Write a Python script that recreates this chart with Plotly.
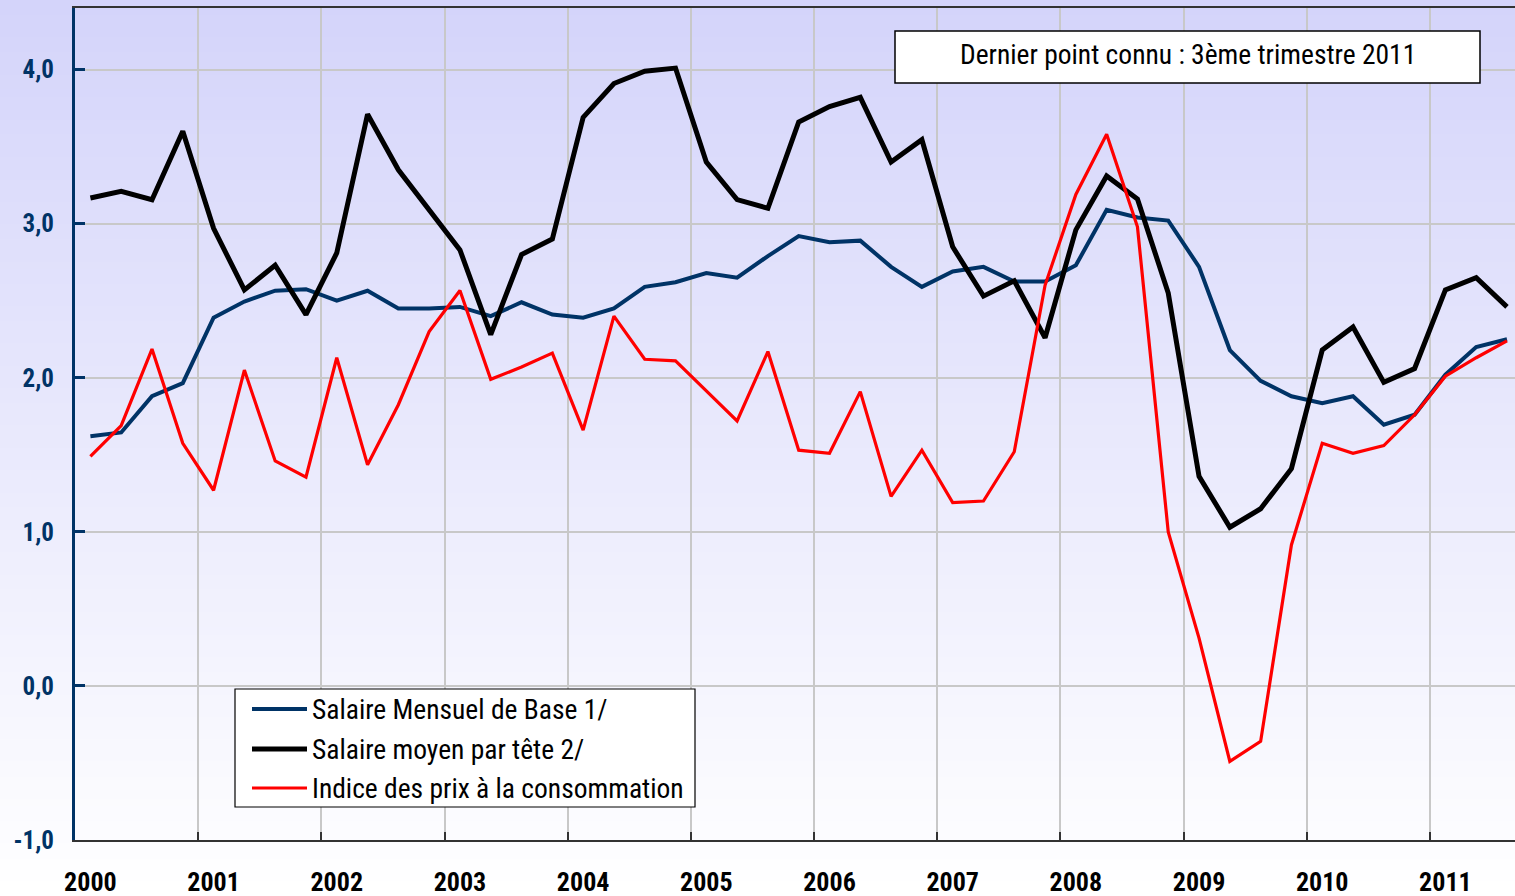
import plotly.graph_objects as go

# ---------------- data (quarterly, 2000Q1 .. 2011Q3) ----------------
years = ["2000", "2001", "2002", "2003", "2004", "2005",
         "2006", "2007", "2008", "2009", "2010", "2011"]

smb = [1.62, 1.645, 1.88, 1.965, 2.39, 2.495, 2.565, 2.575, 2.50, 2.565,
       2.45, 2.45, 2.46, 2.40, 2.49, 2.41, 2.39, 2.45, 2.59, 2.62,
       2.68, 2.65, 2.79, 2.92, 2.88, 2.89, 2.72, 2.59, 2.69, 2.72,
       2.625, 2.625, 2.73, 3.09, 3.04, 3.02, 2.72, 2.18, 1.98, 1.88,
       1.835, 1.88, 1.695, 1.76, 2.02, 2.20, 2.25]

smpt = [3.167, 3.21, 3.156, 3.60, 2.97, 2.57, 2.73, 2.41, 2.81, 3.71,
        3.35, 3.09, 2.83, 2.28, 2.80, 2.90, 3.69, 3.91, 3.99, 4.01,
        3.40, 3.156, 3.10, 3.66, 3.76, 3.82, 3.40, 3.545, 2.85, 2.53,
        2.63, 2.26, 2.96, 3.31, 3.16, 2.55, 1.36, 1.03, 1.15, 1.41,
        2.18, 2.33, 1.97, 2.06, 2.57, 2.65, 2.46]

ipc = [1.49, 1.69, 2.186, 1.575, 1.27, 2.05, 1.46, 1.355, 2.13, 1.435,
       1.825, 2.30, 2.567, 1.99, 2.07, 2.16, 1.66, 2.40, 2.12, 2.11,
       1.915, 1.72, 2.17, 1.53, 1.51, 1.91, 1.23, 1.53, 1.19, 1.20,
       1.52, 2.60, 3.19, 3.58, 2.98, 1.00, 0.31, -0.49, -0.36, 0.915,
       1.575, 1.51, 1.56, 1.76, 2.01, 2.13, 2.24]

y_ticks = [-1, 0, 1, 2, 3, 4]
y_ticktext = ["-1,0", "0,0", "1,0", "2,0", "3,0", "4,0"]

series_names = ["Salaire Mensuel de Base 1/",
                "Salaire moyen par tête 2/",
                "Indice des prix à la consommation"]
series_colors = ["#003366", "#000000", "#ff0000"]
series_widths = [4, 5, 3.2]
note_text = "Dernier point connu : 3ème trimestre 2011"

# ---------------- layout geometry ----------------
W, H = 1515, 896
ML, MR, MT, MB = 75, 0, 8, 56
PW, PH = W - ML - MR, H - MT - MB
FONT = "Liberation Sans Narrow, Arial Narrow, Roboto Condensed, sans-serif"


def px_x(px):
    return (px - ML) / PW


def px_y(py):
    return (H - MB - py) / PH


xs = list(range(len(smb)))
fig = go.Figure()
for name, vals, col, wd in zip(series_names, [smb, smpt, ipc], series_colors, series_widths):
    fig.add_trace(go.Scatter(x=xs, y=vals, mode="lines", name=name,
                             line=dict(color=col, width=wd),
                             showlegend=False))

shapes = []
# background gradient (paper wide)
n_bands = 120
top_c = (212, 212, 250)
bot_c = (255, 255, 255)
for i in range(n_bands):
    t = i / (n_bands - 1)
    c = tuple(round(top_c[k] + (bot_c[k] - top_c[k]) * t) for k in range(3))
    y0 = i * H / n_bands
    y1 = (i + 1) * H / n_bands + 0.8
    shapes.append(dict(type="rect", xref="paper", yref="paper",
                       x0=px_x(0), x1=px_x(W), y0=px_y(y1), y1=px_y(y0),
                       fillcolor="rgb(%d,%d,%d)" % c, line=dict(width=0),
                       layer="below"))

# note box
shapes.append(dict(type="rect", xref="paper", yref="paper",
                   x0=px_x(895), x1=px_x(1480), y0=px_y(83), y1=px_y(31),
                   fillcolor="white", line=dict(color="black", width=1.5),
                   layer="above"))
# legend box
shapes.append(dict(type="rect", xref="paper", yref="paper",
                   x0=px_x(235), x1=px_x(695), y0=px_y(807), y1=px_y(689),
                   fillcolor="white", line=dict(color="black", width=1.2),
                   layer="above"))

annotations = [dict(text=note_text, xref="paper", yref="paper",
                    x=px_x(1188), y=px_y(55), xanchor="center", yanchor="middle",
                    showarrow=False, font=dict(family=FONT, size=27.5, color="black"))]

legend_rows = [709, 749, 788]
for name, col, wd, ry in zip(series_names, series_colors, series_widths, legend_rows):
    shapes.append(dict(type="line", xref="paper", yref="paper",
                       x0=px_x(252), x1=px_x(307), y0=px_y(ry), y1=px_y(ry),
                       line=dict(color=col, width=wd), layer="above"))
    annotations.append(dict(text=name, xref="paper", yref="paper",
                            x=px_x(310), y=px_y(ry), xanchor="left", yanchor="middle",
                            showarrow=False,
                            font=dict(family=FONT, size=27.5, color="black")))

fig.update_layout(
    width=W, height=H, autosize=False,
    margin=dict(l=ML, r=MR, t=MT, b=MB, pad=0, autoexpand=False),
    paper_bgcolor="white",
    plot_bgcolor="rgba(0,0,0,0)",
    shapes=shapes,
    annotations=annotations,
    showlegend=False,
    font=dict(family=FONT),
)

fig.update_xaxes(
    automargin=False,
    range=[-0.5, 46.26],
    tickmode="array",
    tickvals=[4 * i for i in range(len(years))],
    ticktext=years,
    ticks="",
    showgrid=False,
    zeroline=False,
    showline=True, linecolor="#333333", linewidth=1.5, mirror=True,
    tickfont=dict(family=FONT, size=26, color="black", weight="bold"),
    ticklabelstandoff=18,
    minor=dict(tickmode="array",
               tickvals=[3.5 + 4 * i for i in range(len(years) - 1)],
               showgrid=True, gridcolor="#c8c8c8", gridwidth=1.5,
               ticks="inside", ticklen=8, tickcolor="#333333", tickwidth=1.5),
)

fig.update_yaxes(
    automargin=False,
    range=[-1.0, 4.4],
    tickmode="array",
    tickvals=y_ticks,
    ticktext=y_ticktext,
    showgrid=True, gridcolor="#c8c8c8", gridwidth=1.5,
    zeroline=False,
    showline=True, linecolor="#003366", linewidth=3,
    ticks="inside", ticklen=10, tickwidth=3, tickcolor="#003366",
    tickfont=dict(family=FONT, size=25, color="#003366", weight="bold"),
    ticklabelstandoff=13,
)

fig.write_html(
    "out.html",
    config={"displayModeBar": False, "responsive": False},
    post_script="document.body.style.margin='0';document.body.style.overflow='hidden';",
)
